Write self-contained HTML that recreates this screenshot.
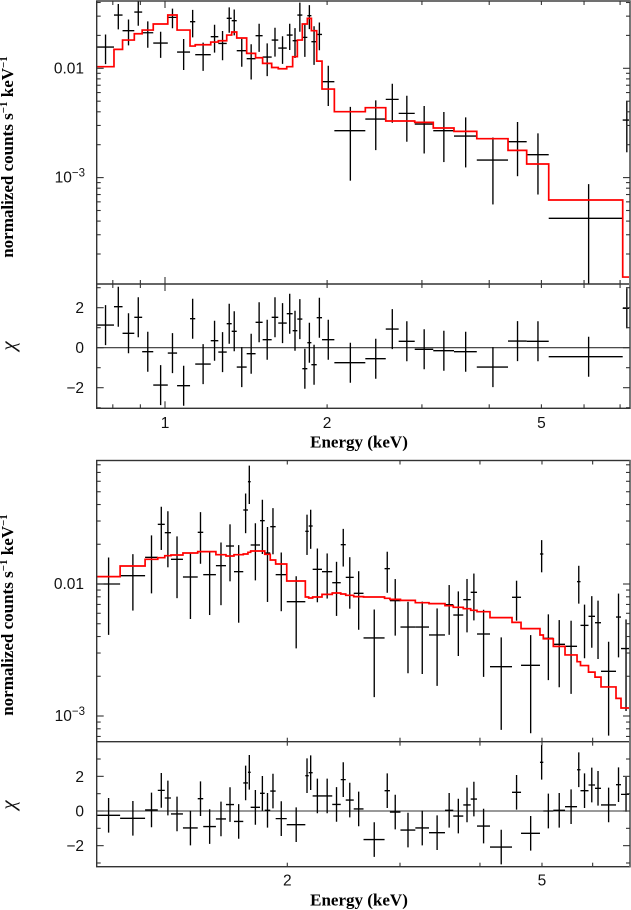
<!DOCTYPE html>
<html lang="en">
<head>
<meta charset="utf-8">
<title>X-ray spectra with model fits and residuals</title>
<style>
  html, body { margin: 0; padding: 0; background: #fff; }
  svg { display: block; }
  .tick-text { font-family: "Liberation Sans", sans-serif; font-size: 15.5px; fill: #111; }
  .title-text { font-family: "Liberation Serif", serif; font-weight: bold; font-size: 17px; fill: #000; }
  .chi-text { font-family: "Liberation Serif", "DejaVu Serif", serif; font-style: italic; font-size: 21px; fill: #111; }
</style>
</head>
<body>
<svg id="figure" xmlns="http://www.w3.org/2000/svg" width="631" height="910" viewBox="0 0 631 910">
  <rect x="0" y="0" width="631" height="910" fill="#fff"/>
  <defs>
    <clipPath id="clip-a-main"><rect x="96.7" y="1" width="533.3" height="283"/></clipPath>
    <clipPath id="clip-a-res"><rect x="96.7" y="284" width="533.3" height="124.3"/></clipPath>
    <clipPath id="clip-b-main"><rect x="96.7" y="460.5" width="533.3" height="281.2"/></clipPath>
    <clipPath id="clip-b-res"><rect x="96.7" y="741.7" width="533.3" height="125"/></clipPath>
  </defs>
</svg>
<script>
// ---- Upper spectrum: bin edges (keV), rates (counts/s/keV), errors, model, residuals ----
const upperEdges = [0.747,0.804,0.834,0.877,0.907,0.951,1.012,1.053,1.113,1.138,1.216,1.256,1.302,1.330,1.359,1.418,1.473,1.518,1.578,1.623,1.683,1.726,1.761,1.799,1.838,1.870,1.913,1.957,2.063,2.355,2.570,2.716,2.909,3.149,3.441,3.793,4.335,4.695,5.159,7.079,7.33];
const upperRate = [0.01565,0.03072,0.02208,0.03273,0.02115,0.01701,0.02924,0.01409,0.02670,0.01332,0.01946,0.01690,0.02864,0.02726,0.01448,0.01224,0.01987,0.01268,0.01813,0.01532,0.02015,0.01788,0.03072,0.01918,0.03030,0.01751,0.02043,0.00754,0.002687,0.003434,0.005196,0.003869,0.003092,0.002687,0.002399,0.001448,0.002130,0.001620,0.000424,0.003364];
const upperRateErr = [0.00474,0.00801,0.00586,0.00820,0.00574,0.00457,0.00596,0.00445,0.00754,0.00385,0.00554,0.00506,0.00748,0.00724,0.00414,0.00434,0.00572,0.00421,0.00534,0.00433,0.00544,0.00545,0.00912,0.00645,0.00750,0.00675,0.00579,0.00302,0.00175,0.00165,0.00202,0.00174,0.00143,0.00130,0.00116,0.00088,0.00110,0.00092,0.000447,0.00166];
const upperModel = [0.01034,0.01490,0.01813,0.02071,0.02238,0.02541,0.03072,0.02238,0.01597,0.01643,0.01738,0.01788,0.02015,0.02147,0.01892,0.01370,0.01249,0.01110,0.01017,0.00991,0.01034,0.01277,0.01813,0.02541,0.02864,0.02208,0.01164,0.00646,0.004008,0.004360,0.003296,0.003296,0.003202,0.002842,0.002650,0.002271,0.001776,0.001332,0.000624,0.000123];
const upperChi = [1.13,2.05,0.72,1.52,-0.2,-1.87,-0.27,-1.9,1.45,-0.82,0.35,-0.22,1.2,0.82,-0.97,-0.3,1.27,0.4,1.52,1.23,1.7,0.85,1.43,-1.05,0.25,-0.85,1.5,0.4,-0.75,-0.55,0.93,0.32,-0.08,-0.15,-0.2,-0.97,0.33,0.32,-0.45,1.97];

// ---- Lower spectrum ----
const lowerEdges = [1.007,1.096,1.199,1.255,1.287,1.316,1.374,1.449,1.478,1.547,1.604,1.651,1.707,1.736,1.753,1.813,1.844,1.881,1.918,1.996,2.134,2.160,2.191,2.266,2.351,2.424,2.468,2.540,2.631,2.838,2.893,3.005,3.170,3.330,3.527,3.634,3.767,3.869,3.958,4.147,4.489,4.637,4.964,5.024,5.208,5.432,5.672,5.743,5.911,6.051,6.183,6.526,6.644,6.887];
const lowerRate = [0.01000,0.01156,0.01592,0.02831,0.02448,0.01538,0.01130,0.02463,0.01177,0.01377,0.01940,0.01240,0.03636,0.05960,0.01975,0.03019,0.01717,0.02719,0.01177,0.00735,0.02506,0.02750,0.01292,0.01240,0.01023,0.01986,0.01123,0.00850,0.00390,0.01307,0.00748,0.00472,0.00472,0.00411,0.00697,0.00582,0.00761,0.00865,0.00418,0.002365,0.00793,0.00242,0.01688,0.00388,0.00349,0.00337,0.01042,0.00486,0.00569,0.00509,0.00218,0.00562,0.00324];
const lowerRateErr = [0.00588,0.00527,0.00743,0.0102,0.0111,0.00757,0.00587,0.0104,0.00595,0.00686,0.00892,0.00731,0.0121,0.0192,0.0091,0.0133,0.00986,0.0104,0.00555,0.0041,0.00846,0.00903,0.00565,0.00464,0.0045,0.0063,0.00473,0.0040,0.00251,0.00449,0.00342,0.00261,0.00264,0.00242,0.00285,0.00297,0.00331,0.00335,0.0022,0.00158,0.00266,0.00168,0.00462,0.00201,0.00184,0.0019,0.00332,0.00212,0.0024,0.00239,0.00147,0.00284,0.00215];
const lowerModel = [0.01137,0.01369,0.01538,0.01583,0.01639,0.01658,0.01717,0.01758,0.01758,0.01668,0.01630,0.01668,0.01688,0.01738,0.01778,0.01778,0.01678,0.01520,0.01418,0.01054,0.00797,0.00783,0.00797,0.00835,0.00855,0.00840,0.00821,0.00802,0.00797,0.00779,0.00765,0.00752,0.00722,0.00710,0.00685,0.00666,0.00650,0.00632,0.00617,0.00556,0.00512,0.00459,0.00411,0.00385,0.00337,0.00290,0.00258,0.00241,0.00215,0.00197,0.00166,0.00136,0.00115];
const lowerChi = [-0.25,-0.42,0.06,1.19,0.75,-0.17,-0.98,0.71,-0.9,-0.46,0.37,-0.6,1.62,2.23,0.21,1.02,0.04,1.15,-0.44,-0.79,2.04,2.21,0.87,0.87,0.38,1.81,0.63,0.12,-1.65,1.17,-0.06,-1.1,-0.98,-1.25,0.04,-0.29,0.35,0.69,-0.87,-2.08,1.08,-1.29,2.81,0,0.04,0.25,2.38,1.17,1.5,1.31,0.35,1.52,0.96];

// ---- Ticks ----
const upperEnergyTicks = [0.8,0.9,1,2,3,4,5,6,7];
const upperEnergyLabels = [1,2,5];
const upperRateTicks = [0.0002,0.0003,0.0004,0.0005,0.0006,0.0007,0.0008,0.0009,0.001,0.002,0.003,0.004,0.005,0.006,0.007,0.008,0.009,0.01,0.02,0.03,0.04];
const upperChiTicks = [-3,-2,-1,0,1,2,3];
const upperChiLabels = [-2,0,2];
const lowerEnergyTicks = [2,3,4,5,6];
const lowerEnergyLabels = [2,5];
const lowerRateTicks = [0.0007,0.0008,0.0009,0.001,0.002,0.003,0.004,0.005,0.006,0.007,0.008,0.009,0.01,0.02,0.03,0.04,0.05,0.06,0.07,0.08];
const lowerChiTicks = [-3,-2,-1,0,1,2,3];
const lowerChiLabels = [-2,0,2];
const majorRates = [0.001,0.01];

const SVGNS = 'http://www.w3.org/2000/svg';
const figure = document.getElementById('figure');
const AXIS_COLOR = '#333333';
const L = 96.7, R = 630;

// Axis functions
const upperX = e => 165 + 538.5 * Math.log10(e);
const upperY = v => 68.3 - 109.3 * (Math.log10(v) + 2);
const upperChiY = c => 347.7 - 20 * c;
const lowerX = e => 287.3 + 640 * Math.log10(e / 2);
const lowerY = v => 584 - 132 * (Math.log10(v) + 2);
const lowerChiY = c => 811 - 17.33 * c;

function shape(parent, tag, attrs) {
  const el = document.createElementNS(SVGNS, tag);
  for (const k in attrs) el.setAttribute(k, attrs[k]);
  parent.appendChild(el);
  return el;
}
function seg(parent, x1, y1, x2, y2, color, width) {
  return shape(parent, 'line', { x1: x1, y1: y1, x2: x2, y2: y2, stroke: color, 'stroke-width': width });
}
function group(clipId) {
  const attrs = {};
  if (clipId) attrs['clip-path'] = 'url(#' + clipId + ')';
  return shape(figure, 'g', attrs);
}

function drawEnergyTicks(ticks, xFn, yTop, yBottom, prefix) {
  const g = group();
  
  
  ticks.forEach(e => {
    const x = xFn(e);
    const len = Number.isInteger(Math.log10(e)) ? 7 : 4;
    const a = seg(g, x, yTop, x, yTop + len, AXIS_COLOR, 1.1);
    
    
    const b = seg(g, x, yBottom, x, yBottom - len, AXIS_COLOR, 1.1);
    
    
  });
}
function drawRateTicks(ticks, yFn, prefix) {
  const g = group();
  
  
  ticks.forEach(v => {
    const y = yFn(v);
    const len = majorRates.indexOf(v) >= 0 ? 7 : 4;
    const a = seg(g, L, y, L + len, y, AXIS_COLOR, 1.1);
    
    
    const b = seg(g, R, y, R - len, y, AXIS_COLOR, 1.1);
    
    
  });
}
function drawChiTicks(ticks, yFn, prefix) {
  const g = group();
  
  
  ticks.forEach(c => {
    const y = yFn(c);
    const len = c % 2 === 0 ? 7 : 4;
    const a = seg(g, L, y, L + len, y, AXIS_COLOR, 1.1);
    
    
    const b = seg(g, R, y, R - len, y, AXIS_COLOR, 1.1);
    
    
  });
}
function drawFrame(yTop, yMid, yBottom, prefix) {
  const frame = shape(figure, 'rect', { x: L, y: yTop, width: R - L, height: yBottom - yTop, fill: 'none', stroke: AXIS_COLOR, 'stroke-width': 1.4 });
  
  
  const mid = seg(figure, L, yMid, R, yMid, AXIS_COLOR, 1.4);
  
  
  const edge = seg(figure, 630, yTop, 630, yBottom, '#777', 2);
  
  
}
function drawSpectrum(edges, rate, err, xFn, yFn, clipId, prefix) {
  const g = group(clipId);
  
  
  rate.forEach((v, i) => {
    const lo = edges[i], hi = edges[i + 1];
    const mid = (lo + hi) / 2;
    const y = yFn(v);
    const h = seg(g, xFn(lo), y, xFn(hi), y, '#000', 1.35);
    
    
    const lower = Math.max(v - err[i], 1e-6);
    const e = seg(g, xFn(mid), yFn(v + err[i]), xFn(mid), yFn(lower), '#000', 1.35);
    
    
  });
}
function drawModel(edges, model, xFn, yFn, clipId, prefix) {
  const g = group(clipId);
  
  
  let d = '';
  model.forEach((v, i) => {
    d += (i === 0 ? 'M' : 'L') + xFn(edges[i]).toFixed(2) + ' ' + yFn(v).toFixed(2);
    d += 'L' + xFn(edges[i + 1]).toFixed(2) + ' ' + yFn(v).toFixed(2);
  });
  const p = shape(g, 'path', { d: d, fill: 'none', stroke: '#ff0000', 'stroke-width': 1.7, 'stroke-linejoin': 'miter' });
  
  
}
function drawResiduals(edges, chi, xFn, yFn, clipId, prefix) {
  const g = group(clipId);
  
  
  const zero = seg(g, L, yFn(0), R, yFn(0), '#333', 1.1);
  
  
  chi.forEach((c, i) => {
    const lo = edges[i], hi = edges[i + 1];
    const mid = (lo + hi) / 2;
    const h = seg(g, xFn(lo), yFn(c), xFn(hi), yFn(c), '#000', 1.35);
    
    
    const e = seg(g, xFn(mid), yFn(c + 1), xFn(mid), yFn(c - 1), '#000', 1.35);
    
    
  });
}
function label(x, y, str, cls, anchor) {
  const t = shape(figure, 'text', { x: x, y: y, class: cls, 'text-anchor': anchor });
  t.textContent = str;
  return t;
}
function energyLabels(values, xFn, y) {
  values.forEach(e => {
    const t = label(xFn(e), y, String(e), 'tick-text', 'middle');
    
    
  });
}
function chiLabels(values, yFn) {
  values.forEach(c => {
    const t = label(84, yFn(c) + 5.5, String(c).replace('-', '\u2212'), 'tick-text', 'end');
    
    
  });
}
function rateLabels(yFn) {
  const a = label(84, yFn(0.01) + 5, '0.01', 'tick-text', 'end');
  
  
  const b = shape(figure, 'text', { x: 85, y: yFn(0.001) + 5, class: 'tick-text', 'text-anchor': 'end' });
  
  
  const base = shape(b, 'tspan', {});
  base.textContent = '10';
  const sup = shape(b, 'tspan', { dy: -6, 'font-size': '11.5' });
  sup.textContent = '\u22123';
}
function yTitle(yCenter) {
  const t = shape(figure, 'text', { class: 'title-text', 'text-anchor': 'middle', transform: 'translate(13 ' + yCenter + ') rotate(-90)' });
  
  
  const parts = [['normalized counts s', 0, 17], ['\u22121', -6, 11], [' keV', 6, 17], ['\u22121', -6, 11]];
  parts.forEach(p => {
    const s = shape(t, 'tspan', { dy: p[1], 'font-size': p[2] });
    s.textContent = p[0];
  });
}
function chiTitle(y) {
  const t = shape(figure, 'text', { class: 'chi-text', 'text-anchor': 'middle', transform: 'translate(15 ' + y + ') rotate(-90)' });
  
  
  t.textContent = '\u03c7';
}
function xTitle(y) {
  const t = label(359, y, 'Energy (keV)', 'title-text', 'middle');
  
  
}

// Upper figure
drawSpectrum(upperEdges, upperRate, upperRateErr, upperX, upperY, 'clip-a-main', 'upper');
drawModel(upperEdges, upperModel, upperX, upperY, 'clip-a-main', 'upper');
drawResiduals(upperEdges, upperChi, upperX, upperChiY, 'clip-a-res', 'upper');
drawFrame(1, 284, 408.3, 'upper');
drawEnergyTicks(upperEnergyTicks, upperX, 1, 284, 'upper-main');
drawEnergyTicks(upperEnergyTicks, upperX, 284, 408.3, 'upper-residual');
drawRateTicks(upperRateTicks, upperY, 'upper');
drawChiTicks(upperChiTicks, upperChiY, 'upper');
energyLabels(upperEnergyLabels, upperX, 428);
chiLabels(upperChiLabels, upperChiY);
rateLabels(upperY);
yTitle(157);
chiTitle(346);
xTitle(447.5);

// Lower figure
drawSpectrum(lowerEdges, lowerRate, lowerRateErr, lowerX, lowerY, 'clip-b-main', 'lower');
drawModel(lowerEdges, lowerModel, lowerX, lowerY, 'clip-b-main', 'lower');
drawResiduals(lowerEdges, lowerChi, lowerX, lowerChiY, 'clip-b-res', 'lower');
drawFrame(460.5, 741.7, 866.7, 'lower');
drawEnergyTicks(lowerEnergyTicks, lowerX, 460.5, 741.7, 'lower-main');
drawEnergyTicks(lowerEnergyTicks, lowerX, 741.7, 866.7, 'lower-residual');
drawRateTicks(lowerRateTicks, lowerY, 'lower');
drawChiTicks(lowerChiTicks, lowerChiY, 'lower');
energyLabels(lowerEnergyLabels, lowerX, 885.7);
chiLabels(lowerChiLabels, lowerChiY);
rateLabels(lowerY);
yTitle(615);
chiTitle(805);
xTitle(905.5);
</script>
</body>
</html>
